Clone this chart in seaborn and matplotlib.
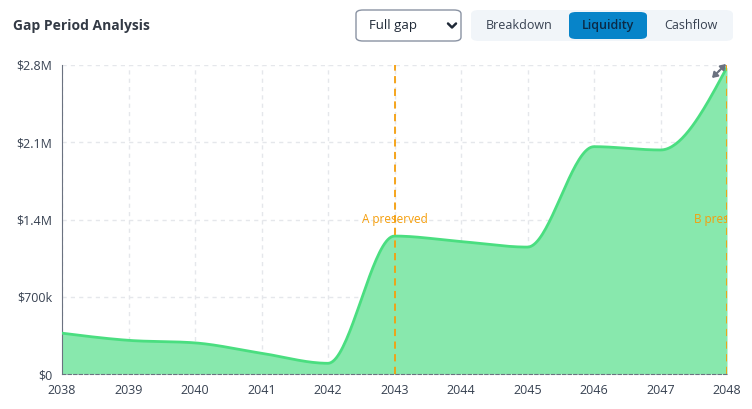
import numpy as np
import pandas as pd
import seaborn as sns
import matplotlib.pyplot as plt
from matplotlib.patches import FancyBboxPatch
from matplotlib.lines import Line2D
from matplotlib.transforms import Bbox, TransformedBbox

# chart data
years = [2038, 2039, 2040, 2041, 2042, 2043, 2044, 2045, 2046, 2047, 2048]
liquidity = [370000, 305000, 282000, 188000, 97000, 1250000, 1200000,
             1150000, 2060000, 2030000, 2780000]
y_ticks = [0, 700000, 1400000, 2100000, 2800000]
y_tick_labels = ["$0", "$700k", "$1.4M", "$2.1M", "$2.8M"]
markers = [(2043, "A preserved"), (2048, "B preserved")]
buttons = ["Breakdown", "Liquidity", "Cashflow"]


def monotone_x(x, y, n=40):
    # d3 curveMonotoneX style smoothing between the data points
    x = np.asarray(x, float)
    y = np.asarray(y, float)
    h = np.diff(x)
    s = np.diff(y) / h
    t = np.zeros_like(y)
    for i in range(1, len(y) - 1):
        p = (s[i - 1] * h[i] + s[i] * h[i - 1]) / (h[i - 1] + h[i])
        t[i] = (np.sign(s[i - 1]) + np.sign(s[i])) * min(abs(s[i - 1]), abs(s[i]), 0.5 * abs(p))
    t[0] = (3 * s[0] - t[1]) / 2
    t[-1] = (3 * s[-1] - t[-2]) / 2
    xs, ys = [], []
    for i in range(len(h)):
        u = np.linspace(0, 1, n, endpoint=False)
        h00 = 2 * u**3 - 3 * u**2 + 1
        h10 = u**3 - 2 * u**2 + u
        h01 = -2 * u**3 + 3 * u**2
        h11 = u**3 - u**2
        xs.append(x[i] + u * h[i])
        ys.append(h00 * y[i] + h10 * h[i] * t[i] + h01 * y[i + 1] + h11 * h[i] * t[i + 1])
    xs.append([x[-1]])
    ys.append([y[-1]])
    return np.concatenate(xs), np.concatenate(ys)


sns.set_style("white")
plt.rcParams['font.family'] = ['Open Sans', 'DejaVu Sans']

W, H = 752, 409
fig = plt.figure(figsize=(W / 100, H / 100), dpi=100)
ax = fig.add_axes([62 / W, (H - 374) / H, 665 / W, 309 / H])

sx, sy = monotone_x(years, liquidity)
curve = pd.DataFrame({"year": sx, "value": sy})
ax.fill_between(curve["year"], 0, curve["value"], color="#88e8ad", lw=0, zorder=2)
sns.lineplot(data=curve, x="year", y="value", ax=ax, color="#4ade80", lw=2, zorder=3)

ax.set_xlim(2038, 2048)
ax.set_ylim(0, 2800000)
ax.set_xticks(years)
ax.set_yticks(y_ticks)
ax.set_yticklabels(y_tick_labels)
ax.set_xlabel("")
ax.set_ylabel("")
ax.grid(True, color="#e5e7eb", ls=(0, (3, 3)), lw=1, zorder=0)
ax.set_axisbelow(True)
for sp in ["top", "right"]:
    ax.spines[sp].set_visible(False)
ax.spines["left"].set_color("#6b7280")
ax.spines["bottom"].set_color("#6b7280")
ax.spines["bottom"].set_linestyle((0, (3, 2)))
ax.spines["bottom"].set_zorder(4)
ax.tick_params(axis="both", length=5, width=1, color="#6b7280", labelsize=9,
               labelcolor="#374151", pad=2)

# the reference's chart area cuts the marker text a little before the figure edge
clip_box = TransformedBbox(Bbox.from_extents(0, 0, 734 / W, 1), fig.transFigure)
for yr, label in markers:
    ax.axvline(yr, color="#f59e0b", lw=1.3, ls=(0, (4, 3)), zorder=4)
    ax.text(yr, 1400000, label, color="#f59e0b", fontsize=8.5, ha="center",
            va="center", zorder=5, clip_on=True, clip_box=clip_box)

# expand icon
for dx, dy in [(7, -7), (-7, 7)]:
    ax.annotate("", xy=((719 + dx) / W, 1 - (71 + dy) / H), xytext=(719 / W, 1 - 71 / H),
                xycoords="figure fraction", textcoords="figure fraction",
                arrowprops=dict(arrowstyle="-|>,head_length=0.3,head_width=0.2",
                                color="#6b7280", lw=1.5, shrinkA=0, shrinkB=0))

# header
fig.text(13 / W, 1 - 26 / H, "Gap Period Analysis", fontsize=10, fontweight="bold",
         color="#333a45", va="center", ha="left")


def box(x0, y0, x1, y1, fc, ec="none", r=6, lw=1):
    p = FancyBboxPatch((x0 / W, 1 - y1 / H), (x1 - x0) / W, (y1 - y0) / H,
                       boxstyle=f"round,pad=0,rounding_size={r / W}",
                       transform=fig.transFigure, fc=fc, ec=ec, lw=lw)
    fig.patches.append(p)


box(356, 10, 461, 41, "white", "#8a93a3", r=7)
fig.text(369 / W, 1 - 25.5 / H, "Full gap", fontsize=9.5, color="#1f2937", va="center")
fig.lines.append(Line2D([448 / W, 452 / W, 456 / W], [1 - 23.5 / H, 1 - 27.5 / H, 1 - 23.5 / H],
                        transform=fig.transFigure, color="#1f2937", lw=1.8))

box(471, 10, 733, 41, "#f1f5f9", r=8)
box(569, 12, 647, 39, "#0784c9", r=7)
centers = [519, 608, 691]
for cx, name in zip(centers, buttons):
    active = name == "Liquidity"
    fig.text(cx / W, 1 - 25.5 / H, name, fontsize=9, ha="center", va="center",
             color="#0b2a46" if active else "#374151",
             fontweight="semibold" if active else "normal")

fig.savefig("out.png", dpi=100)
